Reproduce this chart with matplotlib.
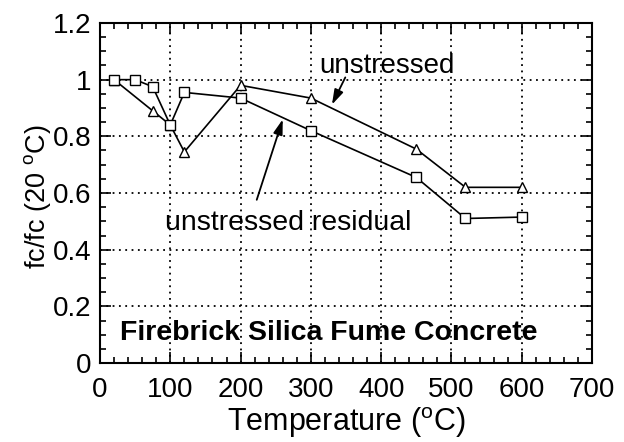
import matplotlib
matplotlib.use("Agg")
import matplotlib.pyplot as plt
from matplotlib.ticker import MultipleLocator

plt.rcParams['font.family'] = ['Liberation Sans', 'DejaVu Sans']
plt.rcParams['mathtext.fontset'] = 'custom'
plt.rcParams['mathtext.rm'] = 'Liberation Sans'
plt.rcParams['mathtext.it'] = 'Liberation Sans'

# data
temp_unstressed = [20, 75, 100, 120, 200, 300, 450, 520, 600]
ratio_unstressed = [1.0, 0.89, 0.84, 0.745, 0.98, 0.935, 0.755, 0.62, 0.62]
temp_residual = [20, 50, 75, 100, 120, 200, 300, 450, 520, 600]
ratio_residual = [1.0, 1.0, 0.975, 0.84, 0.955, 0.935, 0.82, 0.655, 0.51, 0.515]

x_ticks = [0, 100, 200, 300, 400, 500, 600, 700]
y_ticks = [0, 0.2, 0.4, 0.6, 0.8, 1.0, 1.2]
y_tick_labels = ['0', '0.2', '0.4', '0.6', '0.8', '1', '1.2']

fig = plt.figure(figsize=(6.24, 4.42), dpi=100)
ax = fig.add_axes([100/624, 1-363/442, 492/624, 340/442])

ax.plot(temp_unstressed, ratio_unstressed, color='black', lw=1.2,
        marker='^', markersize=7, markerfacecolor='white', markeredgecolor='black',
        markeredgewidth=1.0, zorder=3)
ax.plot(temp_residual, ratio_residual, color='black', lw=1.2,
        marker='s', markersize=7.5, markerfacecolor='white', markeredgecolor='black',
        markeredgewidth=1.0, zorder=3)

ax.set_xlim(0, 700)
ax.set_ylim(0, 1.2)
ax.set_xticks(x_ticks)
ax.set_xticklabels([str(t) for t in x_ticks])
ax.set_yticks(y_ticks)
ax.set_yticklabels(y_tick_labels)
ax.xaxis.set_minor_locator(MultipleLocator(20))
ax.yaxis.set_minor_locator(MultipleLocator(0.05))

ax.tick_params(which='both', direction='in', top=True, right=True, width=1.2)
ax.tick_params(which='major', length=8, labelsize=20)
ax.tick_params(which='minor', length=4)
ax.tick_params(axis='x', which='major', pad=10)
ax.tick_params(axis='y', which='major', pad=6)

ax.grid(True, which='major', color='black', linestyle=(0, (1, 2.5)), linewidth=1.3)
for s in ax.spines.values():
    s.set_linewidth(1.5)

ax.set_xlabel(r'Temperature ($^{\rm o}$C)', fontsize=22)
ax.xaxis.set_label_coords(0.5, -0.2, transform=ax.transAxes)
ax.xaxis.label.set_va('baseline')
ax.set_ylabel(r'fc/fc (20 $^{\rm o}$C)', fontsize=19.5)
ax.yaxis.label.set_va('center')
ax.yaxis.set_label_coords(-0.128, 0.49)

ax.text(312, 1.025, 'unstressed', fontsize=20, ha='left', va='baseline')
ax.annotate('', xy=(330, 0.912), xytext=(349, 1.008),
            arrowprops=dict(arrowstyle='-|>,head_length=0.9,head_width=0.28',
                            color='black', lw=1.3, shrinkA=0, shrinkB=0))
ax.text(93, 0.47, 'unstressed residual', fontsize=20.5, ha='left', va='baseline')
ax.annotate('', xy=(260, 0.86), xytext=(223, 0.576),
            arrowprops=dict(arrowstyle='-|>,head_length=0.9,head_width=0.28',
                            color='black', lw=1.3, shrinkA=0, shrinkB=0))
ax.text(29, 0.08, 'Firebrick Silica Fume Concrete', fontsize=20.5, fontweight='bold',
        ha='left', va='baseline')

fig.savefig('out.png', dpi=100)
